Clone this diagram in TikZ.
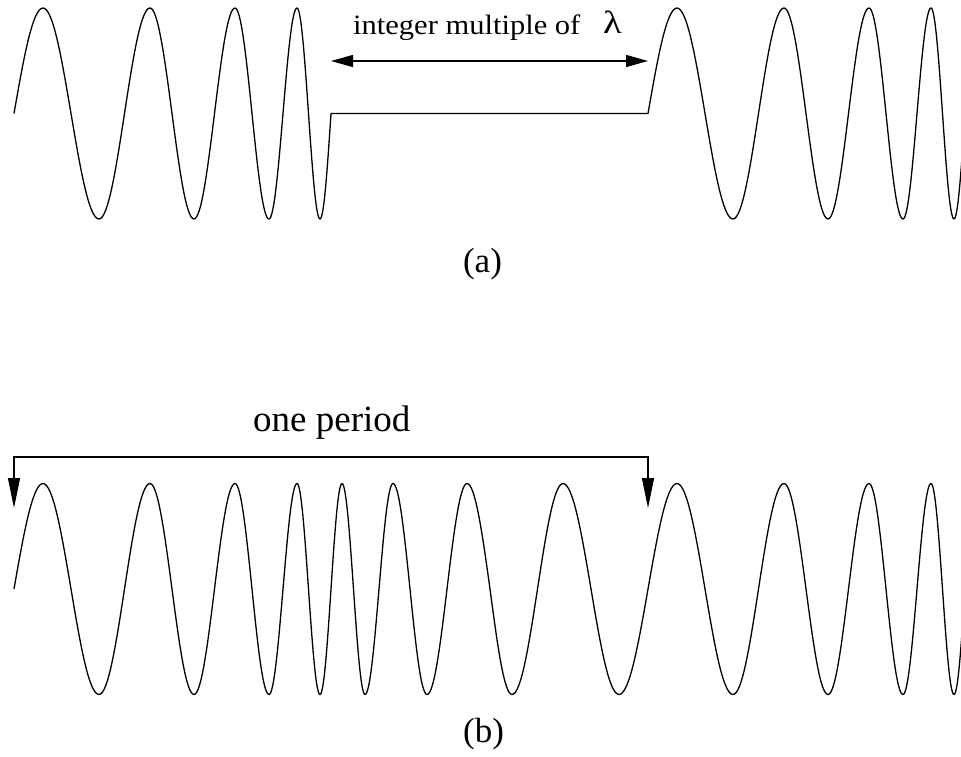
\documentclass[tikz,border=0pt]{standalone}
\usepackage{fontspec}
\usepackage{graphicx}
\setmainfont{Liberation Serif}
\usetikzlibrary{arrows.meta}
\begin{document}
\begin{tikzpicture}[x=1pt,y=-1pt,
  wave/.style={line width=1.3pt, line join=round},
  dim/.style={line width=1.2pt},
  lbl/.style={inner sep=0pt, anchor=base west},
  captext/.style={inner sep=0pt, anchor=base}]
\useasboundingbox (0,0) rectangle (961,757);
\def\amp{105.5}
\begin{scope}
\clip (0,0) rectangle (961,757);
% (a)
\def\yc{113.5}
\def\off{0}
\draw[wave] (14,\yc)
  \foreach \e/\k/\z in {43/1/71,99/-1/124.5,150/1/172,194/-1/214.5,235/1/252,269/-1/283,297/1/308.5,320/-1/331}
  { sin ({\e+\off},{\yc-\k*\amp}) cos ({\z+\off},\yc) }
  -- (648,\yc)
  \foreach \e/\k/\z in {43/1/71,99/-1/124.5,150/1/172,194/-1/214.5,235/1/252,269/-1/283,297/1/308.5,320/-1/331,340/1/345}
  { sin ({\e+634},{\yc-\k*\amp}) cos ({\z+634},\yc) };
% (b)
\def\yc{589}
\draw[wave] (14,\yc)
  \foreach \e/\k/\z in {43/1/71,99/-1/124.5,150/1/172,194/-1/214.5,235/1/252,269/-1/283,297/1/308.5,320/-1/331}
  { sin ({\e},{\yc-\k*\amp}) cos ({\z},\yc) }
  \foreach \e/\k/\z in {342/1/353.5,365/-1/379,393/1/410,427/-1/447,467/1/490,512/-1/537.5,563/1/591,619/-1/648}
  { sin ({\e},{\yc-\k*\amp}) cos ({\z},\yc) }
  \foreach \e/\k/\z in {43/1/71,99/-1/124.5,150/1/172,194/-1/214.5,235/1/252,269/-1/283,297/1/308.5,320/-1/331,340/1/345}
  { sin ({\e+634},{\yc-\k*\amp}) cos ({\z+634},\yc) };
\end{scope}
% arrows
\coordinate (aL) at (331,61);
\coordinate (aR) at (648,61);
\draw[dim, {Triangle[length=22pt,width=12pt]}-{Triangle[length=22pt,width=12pt]}] (aL) -- (aR);
\coordinate (bL) at (14,508);
\coordinate (bLt) at (14,457);
\coordinate (bRt) at (648,457);
\coordinate (bR) at (648,508);
\draw[dim, {Triangle[length=30pt,width=12pt]}-{Triangle[length=30pt,width=12pt]}] (bL) -- (bLt) -- (bRt) -- (bR);
% labels
\node[lbl] (t1) at (353,35) {\fontsize{28}{28}\selectfont\scalebox{1.09}[1]{integer multiple of}};
\node[lbl] (lam) at (603,34) {\fontsize{32}{32}\selectfont\scalebox{1.2}[1]{λ}};
\node[lbl] (t2) at (253,431) {\fontsize{37}{37}\selectfont one period};
\node[captext] (la) at (482.5,272) {\fontsize{35}{35}\selectfont (a)};
\node[captext] (lb) at (483.5,742) {\fontsize{35}{35}\selectfont (b)};
\end{tikzpicture}
\end{document}
